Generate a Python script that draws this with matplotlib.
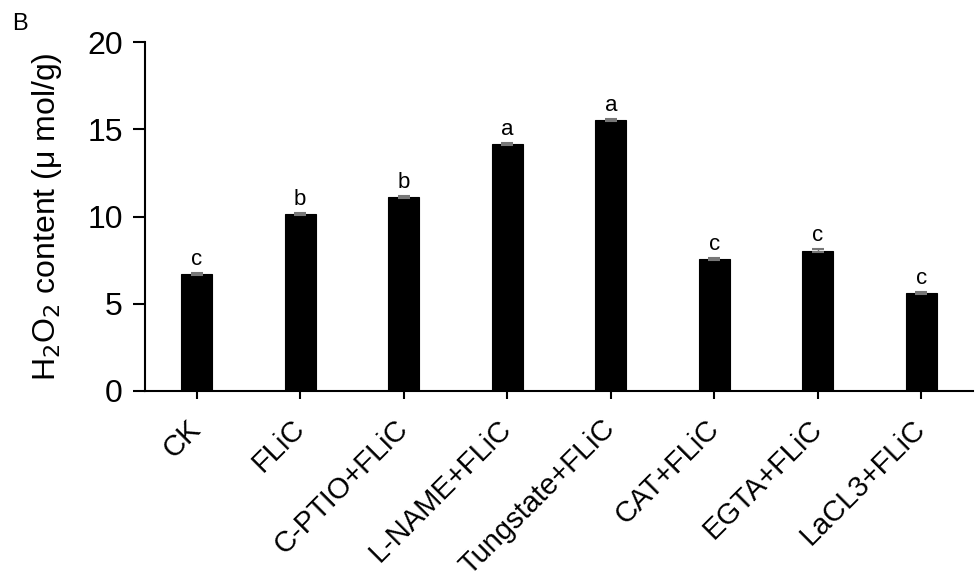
import numpy as np
import matplotlib
matplotlib.use("Agg")
import matplotlib.pyplot as plt

plt.rcParams['font.family'] = ['Liberation Sans', 'DejaVu Sans']

# data
treatments = ['CK', 'FLiC', 'C-PTIO+FLiC', 'L-NAME+FLiC', 'Tungstate+FLiC',
              'CAT+FLiC', 'EGTA+FLiC', 'LaCL3+FLiC']
h2o2 = [6.72, 10.15, 11.12, 14.15, 15.55, 7.58, 8.05, 5.62]
err = [0.06, 0.05, 0.08, 0.06, 0.05, 0.05, 0.09, 0.05]
letters = ['c', 'b', 'b', 'a', 'a', 'c', 'c', 'c']
yticks = [0, 5, 10, 15, 20]

fig = plt.figure(figsize=(9.75, 5.76), dpi=100)
ax = fig.add_axes([0.1487, 0.3212, 0.8493, 0.6058])

x = np.arange(len(treatments))
ax.bar(x, h2o2, width=0.3, color='black', edgecolor='black', lw=0.8,
       yerr=err, ecolor='#777777', capsize=4, error_kw={'elinewidth': 1, 'capthick': 1.5})

for xi, v, e, lab in zip(x, h2o2, err, letters):
    ax.annotate(lab, (xi, v + e), xytext=(0, 2), textcoords='offset points',
                ha='center', va='bottom', fontsize=16)

ax.set_xlim(-0.5, 7.5)
ax.set_ylim(0, 20)
ax.set_yticks(yticks)
ax.set_xticks(x)
ax.set_xticklabels(treatments, rotation=45, ha='right', va='center',
                   rotation_mode='anchor', fontsize=21)
ax.tick_params(axis='y', labelsize=23, length=9, width=1.5, direction='out', pad=7)
ax.tick_params(axis='x', length=6, width=1.5, direction='out', pad=18)
ax.set_ylabel('H$_2$O$_2$ content (\u03bc mol/g)', fontsize=23, labelpad=17)

for s in ['top', 'right']:
    ax.spines[s].set_visible(False)
for s in ['left', 'bottom']:
    ax.spines[s].set_linewidth(1.5)

fig.text(0.012, 0.958, 'B', fontsize=17, ha='left', va='center')

fig.savefig('out.png', dpi=100)
